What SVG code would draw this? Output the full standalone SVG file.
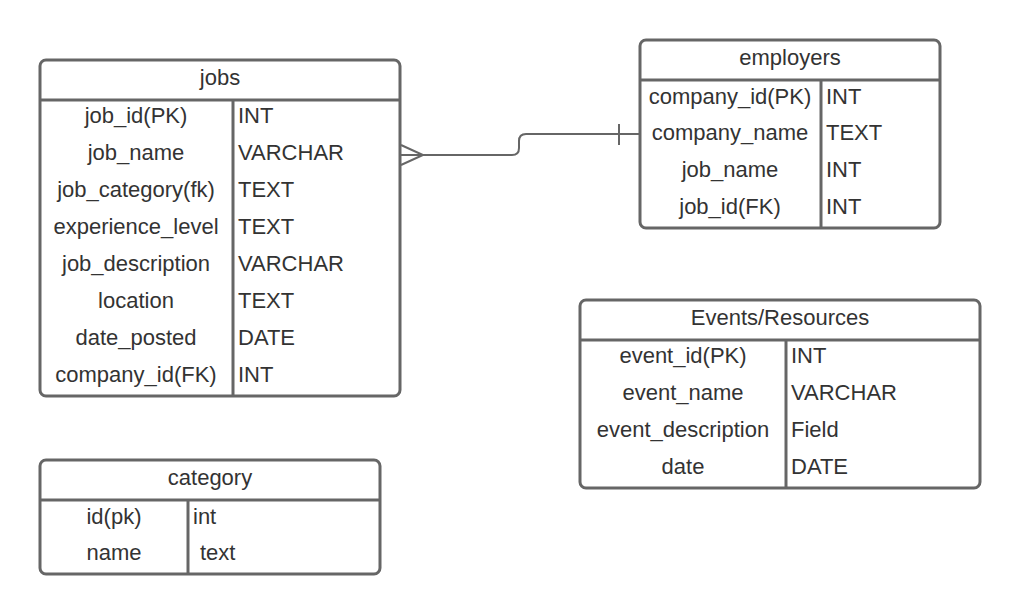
<svg xmlns="http://www.w3.org/2000/svg" width="1020" height="614" viewBox="0 0 1020 614">
<style>
.box{fill:#fff;stroke:#666;stroke-width:3}
.ln{stroke:#666;stroke-width:3;fill:none}
text{font-family:"Liberation Sans",Arial,sans-serif;font-size:22px;fill:#333}
.c{text-anchor:middle}
.conn{stroke:#666;stroke-width:2;fill:none}
</style>
<rect width="1020" height="614" fill="#fff"/>
<g id="jobs">
<rect class="box" x="40" y="60" width="360" height="336" rx="6"/>
<line class="ln" x1="40" y1="100" x2="400" y2="100"/>
<line class="ln" x1="233" y1="100" x2="233" y2="396"/>
<text class="c" x="220" y="85">jobs</text>
<text class="c" x="136" y="123">job_id(PK)</text><text x="238" y="123">INT</text>
<text class="c" x="136" y="160">job_name</text><text x="238" y="160">VARCHAR</text>
<text class="c" x="136" y="197">job_category(fk)</text><text x="238" y="197">TEXT</text>
<text class="c" x="136" y="234">experience_level</text><text x="238" y="234">TEXT</text>
<text class="c" x="136" y="271">job_description</text><text x="238" y="271">VARCHAR</text>
<text class="c" x="136" y="308">location</text><text x="238" y="308">TEXT</text>
<text class="c" x="136" y="345">date_posted</text><text x="238" y="345">DATE</text>
<text class="c" x="136" y="382">company_id(FK)</text><text x="238" y="382">INT</text>
</g>
<g id="employers">
<rect class="box" x="640" y="40" width="300" height="188" rx="6"/>
<line class="ln" x1="640" y1="80" x2="940" y2="80"/>
<line class="ln" x1="821" y1="80" x2="821" y2="228"/>
<text class="c" x="790" y="65">employers</text>
<text class="c" x="730" y="104">company_id(PK)</text><text x="826" y="104">INT</text>
<text class="c" x="730" y="140">company_name</text><text x="826" y="140">TEXT</text>
<text class="c" x="730" y="177">job_name</text><text x="826" y="177">INT</text>
<text class="c" x="730" y="214">job_id(FK)</text><text x="826" y="214">INT</text>
</g>
<g id="events">
<rect class="box" x="580" y="300" width="400" height="188" rx="6"/>
<line class="ln" x1="580" y1="340" x2="980" y2="340"/>
<line class="ln" x1="786" y1="340" x2="786" y2="488"/>
<text class="c" x="780" y="325">Events/Resources</text>
<text class="c" x="683" y="363">event_id(PK)</text><text x="791" y="363">INT</text>
<text class="c" x="683" y="400">event_name</text><text x="791" y="400">VARCHAR</text>
<text class="c" x="683" y="437">event_description</text><text x="791" y="437">Field</text>
<text class="c" x="683" y="474">date</text><text x="791" y="474">DATE</text>
</g>
<g id="category">
<rect class="box" x="40" y="460" width="340" height="114" rx="6"/>
<line class="ln" x1="40" y1="500" x2="380" y2="500"/>
<line class="ln" x1="188" y1="500" x2="188" y2="574"/>
<text class="c" x="210" y="485">category</text>
<text class="c" x="114" y="524">id(pk)</text><text x="193" y="524">int</text>
<text class="c" x="114" y="560">name</text><text x="200" y="560">text</text>
</g>
<g id="connectors">
<path class="conn" d="M401,155 H512 Q519,155 519,148 V141 Q519,134 526,134 H640"/>
<path class="conn" d="M401,145 L423,155 L401,165"/>
<line class="conn" x1="619" y1="124" x2="619" y2="145"/>
</g>
</svg>
